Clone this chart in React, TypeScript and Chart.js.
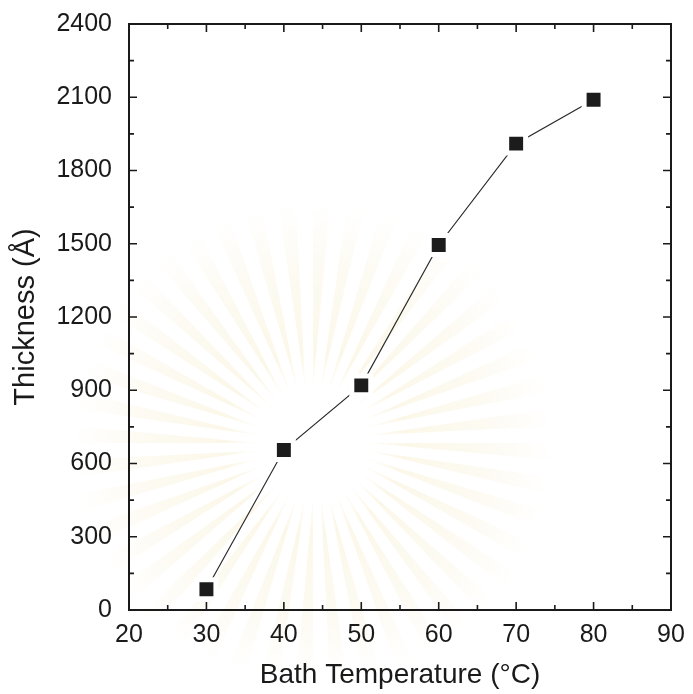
import React, { useEffect, useRef } from "react";
import { Chart, registerables } from "chart.js";

Chart.register(...registerables);

const temperatures = [30, 40, 50, 60, 70, 80];
const thickness = [85, 655, 920, 1495, 1910, 2090];
const xTicks = [20, 30, 40, 50, 60, 70, 80, 90];
const yTicks = [0, 300, 600, 900, 1200, 1500, 1800, 2100, 2400];
const xTitle = "Bath Temperature (°C)";
const yTitle = "Thickness (Å)";

const FONT = "'Liberation Sans', Arial, sans-serif";

const watermarkPlugin = {
  id: "watermark",
  beforeDraw(chart: any) {
    const ctx = chart.ctx;
    const cx = 313, cy = 443;
    ctx.save();
    const n = 44;
    for (let i = 0; i < n; i++) {
      const a0 = (i / n) * Math.PI * 2;
      const a1 = a0 + ((Math.PI * 2) / n) * 0.5;
      const g = ctx.createRadialGradient(cx, cy, 40, cx, cy, 240);
      g.addColorStop(0, "rgba(245,232,190,0.0)");
      g.addColorStop(0.25, "rgba(245,232,190,0.35)");
      g.addColorStop(0.7, "rgba(245,235,200,0.22)");
      g.addColorStop(1, "rgba(245,235,200,0)");
      ctx.fillStyle = g;
      ctx.beginPath();
      ctx.moveTo(cx + 55 * Math.cos(a0), cy + 55 * Math.sin(a0));
      ctx.lineTo(cx + 240 * Math.cos(a0), cy + 240 * Math.sin(a0));
      ctx.lineTo(cx + 240 * Math.cos(a1), cy + 240 * Math.sin(a1));
      ctx.closePath();
      ctx.fill();
    }
    ctx.restore();
  },
};

const framePlugin = {
  id: "frame",
  afterDatasetsDraw(chart: any) {
    const ctx = chart.ctx;
    const { left, right, top, bottom } = chart.chartArea;
    const xs = chart.scales.x;
    const ys = chart.scales.y;
    ctx.save();
    ctx.strokeStyle = "#1a1a1a";
    ctx.lineWidth = 2;
    ctx.strokeRect(left, top, right - left, bottom - top);
    ctx.lineWidth = 1.6;
    ctx.beginPath();
    for (let v = xTicks[0]; v <= xTicks[xTicks.length - 1]; v += 5) {
      const px = xs.getPixelForValue(v);
      const len = xTicks.includes(v) ? 8 : 5;
      ctx.moveTo(px, bottom);
      ctx.lineTo(px, bottom - len);
      ctx.moveTo(px, top);
      ctx.lineTo(px, top + len);
    }
    for (let v = yTicks[0]; v <= yTicks[yTicks.length - 1]; v += 150) {
      const py = ys.getPixelForValue(v);
      const len = yTicks.includes(v) ? 8 : 5;
      ctx.moveTo(left, py);
      ctx.lineTo(left + len, py);
      ctx.moveTo(right, py);
      ctx.lineTo(right - len, py);
    }
    ctx.stroke();
    ctx.restore();
  },
};

export default function App() {
  const ref = useRef<HTMLCanvasElement | null>(null);
  useEffect(() => {
    if (!ref.current) return;
    const chart = new Chart(ref.current, {
      type: "line",
      data: {
        datasets: [
          {
            data: temperatures.map((t, i) => ({ x: t, y: thickness[i] })),
            borderColor: "#2a2a2a",
            borderWidth: 1.2,
            pointStyle: "rect",
            pointRadius: 13.4,
            pointBackgroundColor: "#1c1c1c",
            pointBorderColor: "#ffffff",
            pointBorderWidth: 5,
            tension: 0,
          },
        ],
      },
      options: {
        responsive: false,
        animation: false,
        events: [],
        layout: { padding: { top: 24, right: 22, left: 0, bottom: 0 } },
        plugins: { legend: { display: false }, tooltip: { enabled: false } },
        scales: {
          x: {
            type: "linear",
            min: 20,
            max: 90,
            afterBuildTicks: (s: any) => {
              s.ticks = xTicks.map((v) => ({ value: v }));
            },
            afterFit: (s: any) => {
              s.height = 84;
              s.paddingLeft = 0;
              s.paddingRight = 0;
            },
            grid: { display: false, drawTicks: false },
            border: { display: false },
            ticks: {
              color: "#1a1a1a",
              font: { family: FONT, size: 25 },
              padding: 10,
              maxRotation: 0,
              autoSkip: false,
              callback: (v: any) => String(v),
            },
            title: {
              display: true,
              text: xTitle,
              color: "#1a1a1a",
              font: { family: FONT, size: 28 },
              padding: { top: 2, bottom: 2 },
            },
          },
          y: {
            type: "linear",
            min: 0,
            max: 2400,
            afterBuildTicks: (s: any) => {
              s.ticks = yTicks.map((v) => ({ value: v }));
            },
            afterFit: (s: any) => {
              s.width = 129;
              s.paddingTop = 0;
              s.paddingBottom = 0;
            },
            grid: { display: false, drawTicks: false },
            border: { display: false },
            ticks: {
              color: "#1a1a1a",
              font: { family: FONT, size: 25 },
              padding: 17,
              autoSkip: false,
              callback: (v: any) => String(v),
            },
            title: {
              display: true,
              text: yTitle,
              color: "#1a1a1a",
              font: { family: FONT, size: 29 },
              padding: { top: 9, bottom: 9 },
            },
          },
        },
      },
      plugins: [watermarkPlugin, framePlugin],
    });
    return () => chart.destroy();
  }, []);
  return (
    <div style={{ position: "fixed", left: 0, top: 0, width: 693, height: 694, background: "#fff" }}>
      <canvas ref={ref} width={693} height={694} style={{ display: "block" }} />
    </div>
  );
}
